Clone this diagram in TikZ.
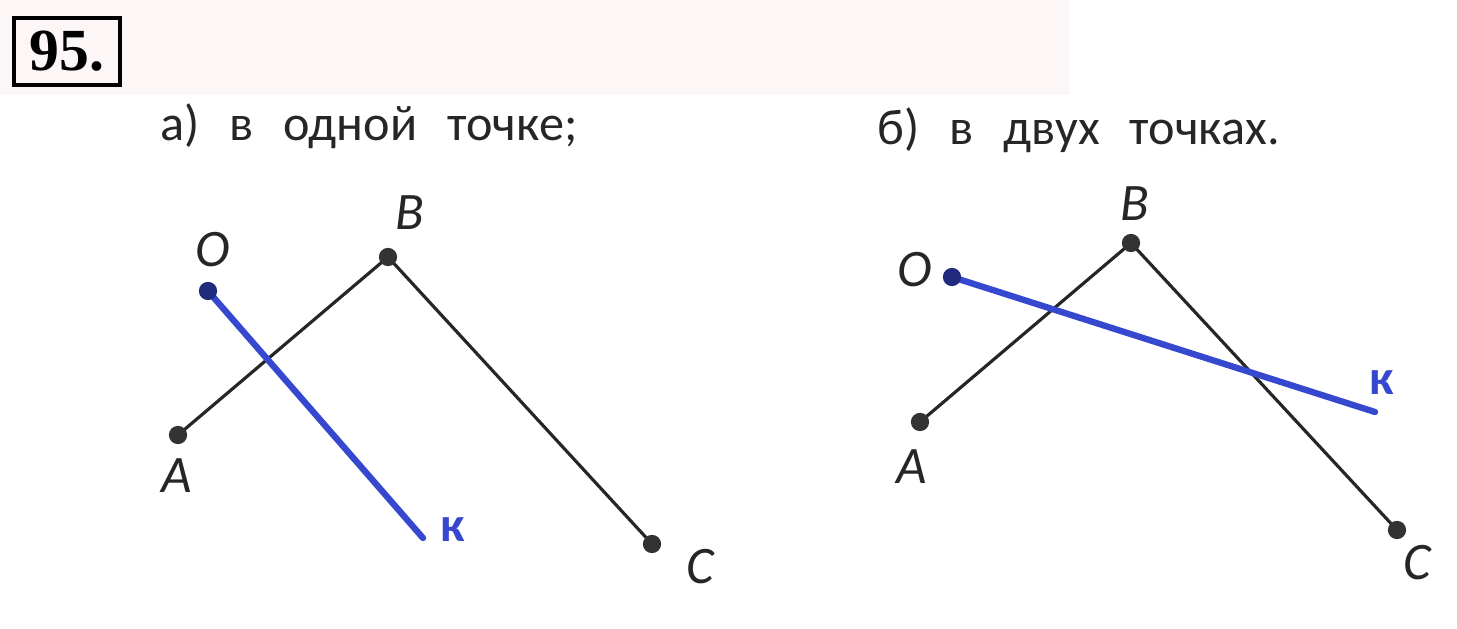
\documentclass[tikz,border=0pt]{standalone}
\usepackage{fontspec}
\setmainfont{Carlito}
\newfontfamily\numfont{Liberation Serif}
\usetikzlibrary{positioning}

\definecolor{penblue}{RGB}{55,72,208}
\definecolor{paperpink}{RGB}{253,246,246}

\tikzset{
    seg/.style={line width=0.9pt, black!85, line cap=round},
    ray/.style={line width=1.8pt, penblue, line cap=round},
    numbox/.style={draw, line width=1.2pt, inner sep=0pt, minimum width=1.06cm,
        minimum height=0.67cm, font=\numfont\bfseries\fontsize{17}{18}\selectfont},
    head/.style={anchor=base west, inner sep=0pt, black!85, font=\fontsize{14.3}{16}\selectfont},
    pt/.style={font=\itshape\fontsize{15}{16}\selectfont, black!85},
    klbl/.style={font=\bfseries\fontsize{14}{15}\selectfont, penblue},
}

\begin{document}
\begin{tikzpicture}
    \useasboundingbox (0,0) rectangle (14.57,-6.29);
    \fill[paperpink] (0,0) rectangle (10.7,-0.95);
    \node[numbox] (num) at (0.67,-0.515) {95.};
    \node[head] (heada) at (1.60,-1.40) {{\spaceskip=8.5pt а) в одной точке;}};
    \node[head] (headb) at (8.77,-1.44) {{\spaceskip=8.5pt б) в двух точках.}};

    % a) one crossing
    \coordinate (A1) at (1.78,-4.35);
    \coordinate (B1) at (3.88,-2.57);
    \coordinate (C1) at (6.52,-5.44);
    \coordinate (O1) at (2.08,-2.91);
    \coordinate (K1) at (4.23,-5.38);
    \draw[seg] (A1) -- (B1) -- (C1);
    \draw[ray] (O1) -- (K1);
    \foreach \p in {A1,B1,C1} \fill[black!80] (\p) circle (2.6pt);
    \fill[penblue!60!black] (O1) circle (2.6pt);
    \node[pt] (labA1) at (1.77,-4.76) {A};
    \node[pt] (labB1) at (4.10,-2.13) {B};
    \node[pt] (labC1) at (7.00,-5.67) {C};
    \node[pt] (labO1) at (2.13,-2.50) {O};
    \node[klbl] (labK1) at (4.53,-5.30) {к};

    % b) two crossings
    \coordinate (A2) at (9.20,-4.22);
    \coordinate (B2) at (11.31,-2.43);
    \coordinate (C2) at (13.97,-5.30);
    \coordinate (O2) at (9.52,-2.77);
    \coordinate (K2) at (13.75,-4.12);
    \draw[seg] (A2) -- (B2) -- (C2);
    \draw[ray] (O2) -- (K2);
    \foreach \p in {A2,B2,C2} \fill[black!80] (\p) circle (2.6pt);
    \fill[penblue!60!black] (O2) circle (2.6pt);
    \node[pt] (labA2) at (9.12,-4.67) {A};
    \node[pt] (labB2) at (11.35,-2.04) {B};
    \node[pt] (labC2) at (14.17,-5.63) {C};
    \node[pt] (labO2) at (9.15,-2.70) {O};
    \node[klbl] (labK2) at (13.82,-3.83) {к};
\end{tikzpicture}
\end{document}
